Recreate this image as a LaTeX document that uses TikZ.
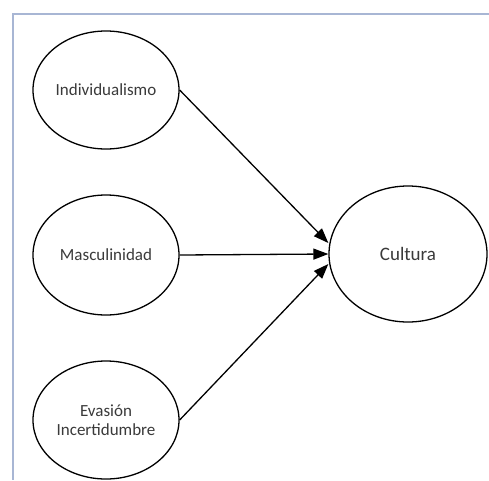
\documentclass[tikz,border=0pt]{standalone}
\usepackage{fontspec}
\setmainfont{Carlito}
\usepackage{xcolor}
\usetikzlibrary{arrows.meta,shapes.geometric}

\definecolor{marco}{RGB}{168,182,212}
\definecolor{texto}{RGB}{58,58,58}

\tikzset{
  constructo/.style={ellipse, draw=black, line width=1.3pt, inner sep=0pt,
    minimum width=146pt, minimum height=118pt, align=center,
    text=texto, font=\fontsize{17}{19}\selectfont},
  flecha/.style={-{Triangle[length=15pt,width=11pt]}, line width=1.3pt, black}
}

\begin{document}
\begin{tikzpicture}[x=1pt,y=-1pt]
  % marco de la figura
  \useasboundingbox (0,0) rectangle (489,480);
  \fill[white] (0,0) rectangle (489,480);
  \draw[marco, line width=1.8pt] (12,14) -- (489,14);
  \draw[marco, line width=1.8pt] (13,14) -- (13,480);

  % dimensiones
  \node[constructo] (indiv) at (106,90) {Individualismo};
  \node[constructo, minimum height=120pt] (masc) at (106,255) {Masculinidad};
  \node[constructo] (evasion) at (106,420) {Evasión\\Incertidumbre};

  % variable dependiente
  \node[constructo, minimum width=158pt, minimum height=136pt,
    font=\fontsize{19}{21}\selectfont] (cultura) at (408,254) {Cultura};

  % relaciones
  \draw[flecha] (indiv.east) -- ([yshift=11pt]cultura.west);
  \draw[flecha] (masc.east) -- (cultura.west);
  \draw[flecha] (evasion.east) -- ([yshift=-10pt]cultura.west);
\end{tikzpicture}
\end{document}
